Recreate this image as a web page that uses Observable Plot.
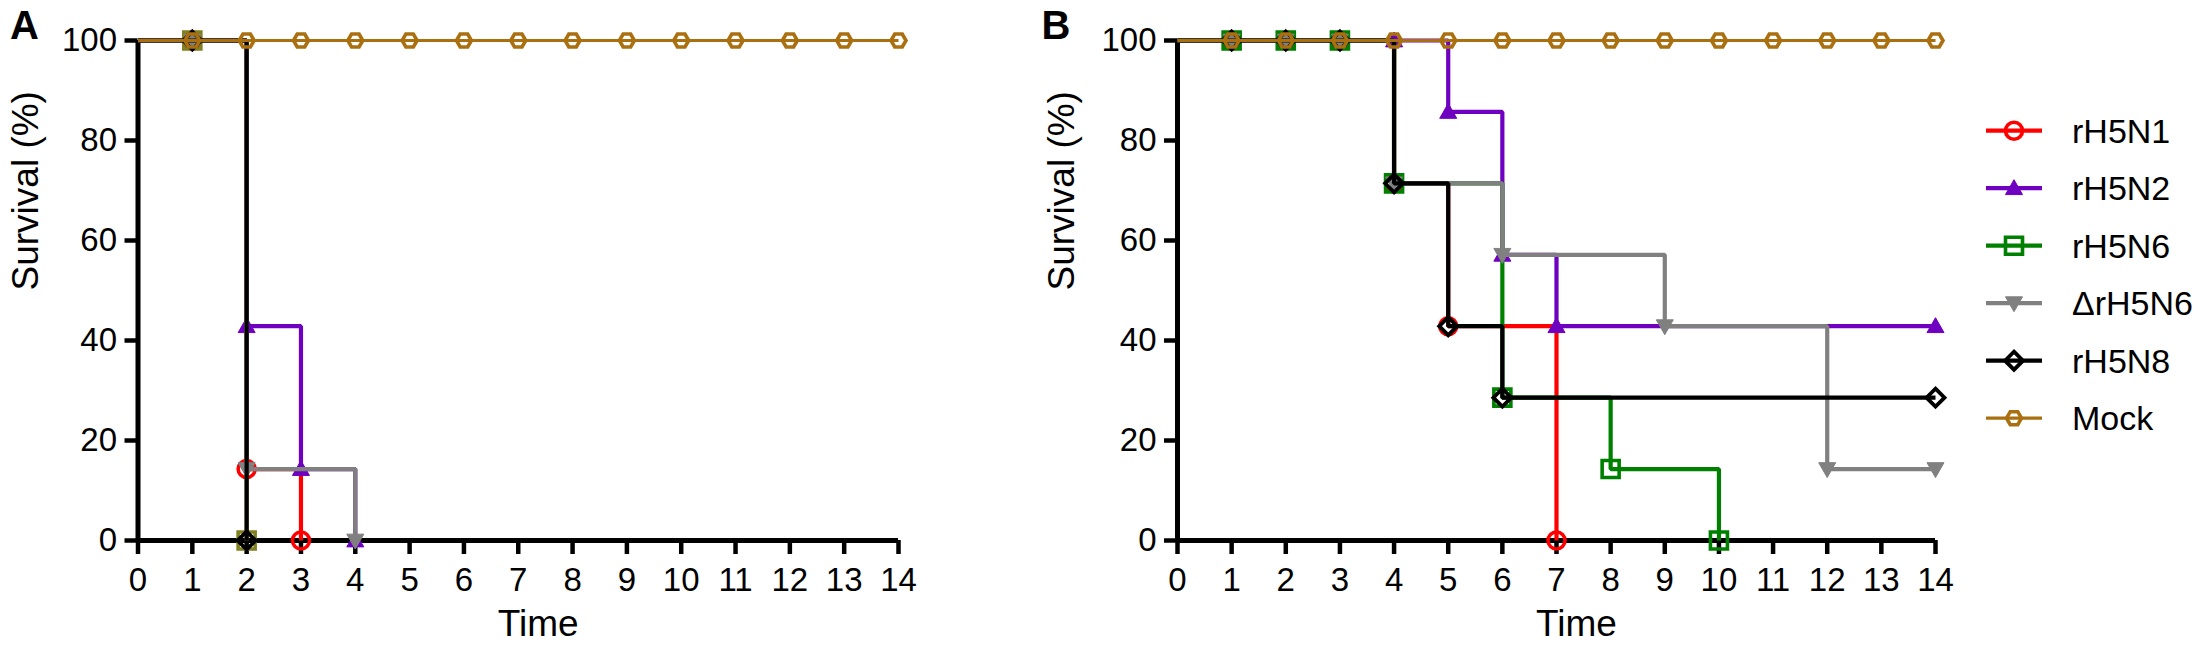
<!DOCTYPE html>
<html>
<head>
<meta charset="utf-8">
<script src="https://cdn.jsdelivr.net/npm/d3@7"></script>
<script src="https://cdn.jsdelivr.net/npm/@observablehq/plot@0.6"></script>
<style>
  html, body { margin: 0; padding: 0; background: #fff; }
  #chart { position: relative; width: 2205px; height: 659px; overflow: hidden; background: #fff;
           font-family: "Liberation Sans", Arial, sans-serif; }
  #chart > * { position: absolute; top: 0; }
</style>
</head>
<body>
<div id="chart"></div>
<script>
// ---------------- data ----------------
const seriesNames = ["rH5N1", "rH5N2", "rH5N6", "ΔrH5N6", "rH5N8", "Mock"];
const colorsA = ["#FF0000", "#7000C0", "#808020", "#808080", "#000000", "#AA7010"];
const colorsB = ["#FF0000", "#7000C0", "#008000", "#808080", "#000000", "#AA7010"];
const xTicks = [0, 1, 2, 3, 4, 5, 6, 7, 8, 9, 10, 11, 12, 13, 14];
const yTicks = [0, 20, 40, 60, 80, 100];

// Panel A: survival steps [day, %] and days carrying a symbol
const A_rH5N1 = [[0, 100], [2, 14.29], [3, 0]];
const A_rH5N1_marks = [1, 2, 3];
const A_rH5N2 = [[0, 100], [2, 42.86], [3, 14.29], [4, 0]];
const A_rH5N2_marks = [1, 2, 3, 4];
const A_rH5N6 = [[0, 100], [2, 0]];
const A_rH5N6_marks = [1, 2];
const A_dH5N6 = [[0, 100], [2, 14.29], [4, 0]];
const A_dH5N6_marks = [1, 2, 4];
const A_rH5N8 = [[0, 100], [2, 0]];
const A_rH5N8_marks = [1, 2];
const A_Mock = [[0, 100], [14, 100]];
const A_Mock_marks = [1, 2, 3, 4, 5, 6, 7, 8, 9, 10, 11, 12, 13, 14];

// Panel B
const B_rH5N1 = [[0, 100], [4, 71.43], [5, 42.86], [7, 0]];
const B_rH5N1_marks = [1, 2, 3, 4, 5, 7];
const B_rH5N2 = [[0, 100], [5, 85.71], [6, 57.14], [7, 42.86], [14, 42.86]];
const B_rH5N2_marks = [1, 2, 3, 4, 5, 6, 7, 14];
const B_rH5N6 = [[0, 100], [4, 71.43], [6, 28.57], [8, 14.29], [10, 0]];
const B_rH5N6_marks = [1, 2, 3, 4, 6, 8, 10];
const B_dH5N6 = [[0, 100], [4, 71.43], [6, 57.14], [9, 42.86], [12, 14.29], [14, 14.29]];
const B_dH5N6_marks = [1, 2, 3, 4, 6, 9, 12, 14];
const B_rH5N8 = [[0, 100], [4, 71.43], [5, 42.86], [6, 28.57], [14, 28.57]];
const B_rH5N8_marks = [1, 2, 3, 4, 5, 6, 14];
const B_Mock = [[0, 100], [14, 100]];
const B_Mock_marks = [1, 2, 3, 4, 5, 6, 7, 8, 9, 10, 11, 12, 13, 14];

// ---------------- symbols ----------------
const rad = size => Math.sqrt(size / Math.PI);
const symCircle = {draw(c, s) { const r = rad(s); c.moveTo(r, 0); c.arc(0, 0, r, 0, 2 * Math.PI); c.closePath(); }};
const symSquare = {draw(c, s) { const r = rad(s); c.rect(-r, -r, 2 * r, 2 * r); }};
const symDiamond = {draw(c, s) { const r = rad(s); c.moveTo(0, -r); c.lineTo(r, 0); c.lineTo(0, r); c.lineTo(-r, 0); c.closePath(); }};
const symTriUp = {draw(c, s) { const r = rad(s); c.moveTo(0, -r); c.lineTo(r, 0.75 * r); c.lineTo(-r, 0.75 * r); c.closePath(); }};
const symTriDown = {draw(c, s) { const r = rad(s); c.moveTo(0, r); c.lineTo(r, -0.75 * r); c.lineTo(-r, -0.75 * r); c.closePath(); }};
const symHex = {draw(c, s) { const r = rad(s), h = 0.866 * r;
  c.moveTo(r, 0); c.lineTo(r / 2, h); c.lineTo(-r / 2, h); c.lineTo(-r, 0); c.lineTo(-r / 2, -h); c.lineTo(r / 2, -h); c.closePath(); }};

const symStyle = [
  {symbol: symCircle, r: 8.5, filled: false, sw: 3.6},
  {symbol: symTriUp, r: 8.5, filled: true, sw: 1},
  {symbol: symSquare, r: 8.5, filled: false, sw: 3.6},
  {symbol: symTriDown, r: 8.5, filled: true, sw: 1},
  {symbol: symDiamond, r: 9, filled: false, sw: 3.8},
  {symbol: symHex, r: 7.5, filled: false, sw: 3.6}
];
const lineWidths = [4.2, 4.2, 4.2, 4.2, 4.2, 3.2];

const fontFamily = "'Liberation Sans', Arial, Helvetica, sans-serif";

function valueAt(steps, t) {
  let v = steps[0][1];
  for (const [d, s] of steps) if (d <= t) v = s;
  return v;
}

function panel(stepsList, marksList, colors, o) {
  const marks = [
    Plot.axisY({ticks: yTicks, tickSize: 13, tickPadding: 8, fontSize: 33, strokeWidth: 4.5, label: null, tickFormat: d => String(d)}),
    Plot.axisX({ticks: xTicks, tickSize: 14, tickPadding: 13, fontSize: 33, strokeWidth: 4.5, label: null, tickFormat: d => String(d)}),
    Plot.ruleX([0], {strokeWidth: 5}),
    Plot.ruleY([0], {strokeWidth: 5})
  ];
  stepsList.forEach((steps, i) => {
    const line = steps.map(([t, s]) => ({t, s}));
    marks.push(Plot.line(line, {x: "t", y: "s", curve: "step-after", stroke: colors[i],
      strokeWidth: lineWidths[i], strokeLinejoin: "miter", strokeLinecap: "butt"}));
    const pts = marksList[i].map(t => ({t, s: valueAt(steps, t)}));
    const st = symStyle[i];
    marks.push(Plot.dot(pts, {x: "t", y: "s", symbol: st.symbol, r: st.r,
      stroke: colors[i], strokeWidth: st.sw, fill: st.filled ? colors[i] : "none"}));
  });
  marks.push(Plot.text(["Survival (%)"], {frameAnchor: "left", dx: o.yLabelDx, rotate: -90, fontSize: 37, fill: "black"}));
  marks.push(Plot.text(["Time"], {frameAnchor: "bottom", dx: 20, dy: 95, fontSize: 37, fill: "black"}));
  marks.push(Plot.text([o.letter], {frameAnchor: "top-left", dx: o.letterDx, dy: -2, textAnchor: "start",
    lineAnchor: "bottom", fontSize: 40, fontWeight: "bold", fill: "black"}));
  return Plot.plot({
    width: o.width, height: 659,
    marginLeft: o.marginLeft, marginRight: o.marginRight, marginTop: 40, marginBottom: 119,
    x: {domain: [0, 14], label: null},
    y: {domain: [0, 100], label: null},
    style: {fontFamily, color: "black", background: "transparent", overflow: "visible"},
    marks
  });
}

const chart = document.getElementById("chart");

const svgA = panel(
  [A_rH5N1, A_rH5N2, A_rH5N6, A_dH5N6, A_rH5N8, A_Mock],
  [A_rH5N1_marks, A_rH5N2_marks, A_rH5N6_marks, A_dH5N6_marks, A_rH5N8_marks, A_Mock_marks],
  colorsA, {width: 1040, marginLeft: 137.5, marginRight: 142, yLabelDx: -112, letter: "A", letterDx: -128});
svgA.style.left = "0px";
chart.appendChild(svgA);

const svgB = panel(
  [B_rH5N1, B_rH5N2, B_rH5N6, B_dH5N6, B_rH5N8, B_Mock],
  [B_rH5N1_marks, B_rH5N2_marks, B_rH5N6_marks, B_dH5N6_marks, B_rH5N8_marks, B_Mock_marks],
  colorsB, {width: 1165, marginLeft: 137, marginRight: 270, yLabelDx: -115, letter: "B", letterDx: -136});
svgB.style.left = "1040px";
chart.appendChild(svgB);

// ---------------- legend ----------------
const legendLeft = 1960, legendTop = 100;
const leg = d3.create("svg").attr("width", 245).attr("height", 360)
  .style("left", legendLeft + "px").style("top", legendTop + "px").style("overflow", "visible");
seriesNames.forEach((name, i) => {
  const y = 30.7 + i * 57.5;
  const g = leg.append("g").attr("transform", `translate(0,${y})`);
  g.append("line").attr("x1", 26).attr("x2", 82).attr("y1", 0).attr("y2", 0)
    .attr("stroke", colorsB[i]).attr("stroke-width", lineWidths[i]);
  const st = symStyle[i];
  g.append("path").attr("transform", "translate(54,0)")
    .attr("d", d3.symbol(st.symbol, Math.PI * st.r * st.r)())
    .attr("fill", st.filled ? colorsB[i] : "none").attr("stroke", colorsB[i]).attr("stroke-width", st.sw);
  g.append("text").attr("x", 112).attr("y", 0).attr("dy", "0.36em")
    .attr("font-size", 34).attr("font-family", fontFamily).attr("fill", "black").text(name);
});
chart.appendChild(leg.node());
</script>
</body>
</html>
